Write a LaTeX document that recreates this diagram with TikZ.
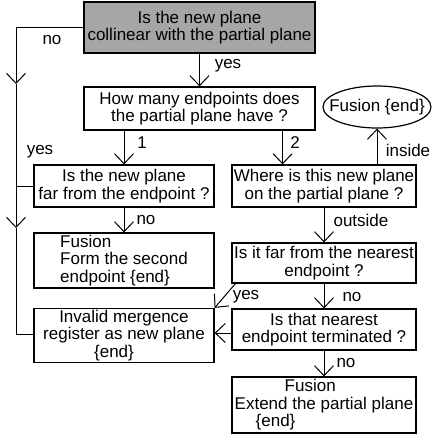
\documentclass[tikz,border=0pt]{standalone}
\usepackage{fontspec}
\setmainfont{Liberation Sans}
\usetikzlibrary{arrows.meta,shapes.geometric}

\begin{document}
\begin{tikzpicture}[x=1pt,y=-1pt,line width=1pt,
		font=\fontsize{17}{17.5}\selectfont,
		box/.style={draw,line width=1.2pt,align=center,inner sep=1pt},
		arr/.style={-{Straight Barb[length=10pt,width=19pt]}},
		lbl/.style={inner sep=0pt}]
	\useasboundingbox (0,0) rectangle (432,440);

	\node (top) at (199.5,27.5) [box,fill=black!35,minimum width=231pt,minimum height=51pt,font=\fontsize{17}{17}\selectfont] {Is the new plane\\collinear with the partial plane};
	\node (many) at (199.5,108.5) [box,minimum width=231pt,minimum height=43pt] {How many endpoints does\\the partial plane have ?};
	\node (fus1) at (377,107) [ellipse,draw,line width=1.2pt,minimum width=108pt,minimum height=42pt,inner sep=0pt] {\makebox[0pt]{Fusion \{end\}}};
	\node (far) at (124,186) [box,minimum width=180pt,minimum height=42pt] {Is the new plane\\far from the endpoint ?};
	\node (where) at (324,186) [box,minimum width=184pt,minimum height=42pt] {Where is this new plane\\on the partial plane ?};
	\node (form) at (124,260.5) [box,align=left,minimum width=180pt,minimum height=55pt] {Fusion\\Form the second\\endpoint \{end\}};
	\node (near) at (324,263) [box,minimum width=184pt,minimum height=40pt] {Is it far from the nearest\\endpoint ?};
	\node (inval) at (124,335.5) [box,minimum width=180pt,minimum height=54pt] {Invalid mergence\\register as new plane\\\{end\}\hspace*{20pt}};
	\node (term) at (324,329.5) [box,minimum width=184pt,minimum height=41pt] {Is that nearest\\endpoint terminated ?};
	\node (ext) at (324,405) [box,align=left,minimum width=184pt,minimum height=56pt] {\hspace*{50pt}Fusion\\Extend the partial plane\\\hspace*{21pt}\{end\}};

	% left return line
	\coordinate (lt) at (16,27.5);
	\coordinate (la) at (16,84);
	\coordinate (lb) at (16,228);
	\coordinate (lc) at (16,334);
	\draw (top.west) -- (lt);
	\draw[arr] (lt) -- (la);
	\draw[arr] (la) -- (lb);
	\draw (lb) -- (lc) -- (inval.west |- lc);
	\draw (far.west) -- (far.west -| lt);

	\coordinate (m2) at ([xshift=-33pt]many.south east);
	\draw[arr] (top) -- (many);
	\draw[arr] (many.south -| far.north) -- (far.north);
	\draw[arr] (m2) -- (m2 |- where.north);
	\draw[arr] (fus1.south |- where.north) -- (fus1.south);
	\draw[arr] (far) -- (form);
	\draw[arr] (where) -- (near);
	\draw[arr] ([xshift=4pt]near.south west) -- (inval.north east);
	\draw[arr] (near) -- (term);
	\draw[arr] ([yshift=-3.5pt]term.west) -- ([yshift=-3.5pt]term.west -| inval.east);
	\draw[arr] (term) -- (ext);

	\node (no1) at (52,40) [lbl] {no};
	\node (yes1) at (228,66) [lbl] {yes};
	\node (one) at (142,143) [lbl] {1};
	\node (two) at (295,143) [lbl] {2};
	\node (ins) at (408,150) [lbl] {inside};
	\node (yes2) at (40,152) [lbl] {yes};
	\node (no2) at (146,220) [lbl] {no};
	\node (outs) at (361,220) [lbl] {outside};
	\node (yes3) at (246,297) [lbl] {yes};
	\node (no3) at (352,297) [lbl] {no};
	\node (no4) at (346,363) [lbl] {no};
\end{tikzpicture}
\end{document}
